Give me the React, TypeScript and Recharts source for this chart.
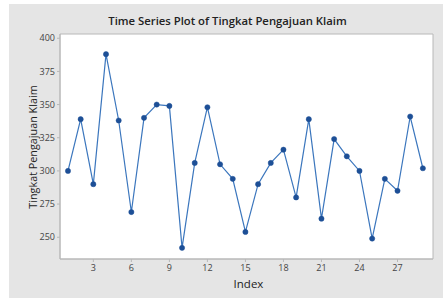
import { LineChart, Line, XAxis, YAxis, ReferenceArea } from 'recharts';

const indexValues = [1, 2, 3, 4, 5, 6, 7, 8, 9, 10, 11, 12, 13, 14, 15, 16, 17, 18, 19, 20, 21, 22, 23, 24, 25, 26, 27, 28, 29];
const klaim = [300, 339, 290, 388, 338, 269, 340, 350, 349, 242, 306, 348, 305, 294, 254, 290, 306, 316, 280, 339, 264, 324, 311, 300, 249, 294, 285, 341, 302];
const xTicks = [3, 6, 9, 12, 15, 18, 21, 24, 27];
const yTicks = [250, 275, 300, 325, 350, 375, 400];

const xDomain: [number, number] = [0.37, 29.8];
const yDomain: [number, number] = [233.6, 403.2];

const data = indexValues.map((idx, i) => ({ idx, value: klaim[i] }));

const font = '"Open Sans", "Noto Sans", sans-serif';

export default function App() {
  return (
    <div style={{ position: 'absolute', left: 0, top: 0, width: 443, height: 298, background: '#fff', overflow: 'hidden' }}>
      <div style={{ position: 'absolute', left: 9, top: 4, width: 434, height: 294, background: '#e5e5e5' }}>
        <div
          style={{
            position: 'absolute',
            left: 0,
            top: 9,
            width: 434,
            textAlign: 'center',
            fontFamily: font,
            fontSize: 11.3,
            fontWeight: 600,
            color: '#222',
            paddingLeft: 3,
            boxSizing: 'border-box',
          }}
        >
          Time Series Plot of Tingkat Pengajuan Klaim
        </div>
        <div
          style={{
            position: 'absolute',
            left: 23,
            top: 143,
            transform: 'translate(-50%, -50%) rotate(-90deg)',
            whiteSpace: 'nowrap',
            fontFamily: font,
            fontSize: 10.8,
            color: '#222',
          }}
        >
          Tingkat Pengajuan Klaim
        </div>
        <div
          style={{
            position: 'absolute',
            left: 0,
            top: 272,
            width: 434,
            paddingLeft: 51,
            boxSizing: 'border-box',
            textAlign: 'center',
            fontFamily: font,
            fontSize: 11.5,
            color: '#222',
          }}
        >
          <span style={{ position: 'relative', left: -3 }}>Index</span>
        </div>
        <LineChart
          width={434}
          height={294}
          data={data}
          margin={{ top: 30, right: 10, left: 0, bottom: 0 }}
          style={{ position: 'absolute', left: 0, top: 0 }}
        >
          <ReferenceArea
            x1={xDomain[0]}
            x2={xDomain[1]}
            y1={yDomain[0]}
            y2={yDomain[1]}
            fill="#fff"
            fillOpacity={1}
            stroke="#b8b8b8"
            strokeWidth={1}
          />
          <XAxis
            dataKey="idx"
            type="number"
            domain={xDomain}
            ticks={xTicks}
            allowDataOverflow
            height={39}
            tickSize={3}
            tickLine={{ stroke: '#b8b8b8' }}
            axisLine={{ stroke: '#b8b8b8' }}
            tick={{ fontSize: 9, fill: '#444', fontFamily: font }}
            tickMargin={3}
          />
          <YAxis
            type="number"
            domain={yDomain}
            ticks={yTicks}
            allowDataOverflow
            width={51}
            tickSize={3}
            tickLine={{ stroke: '#b8b8b8' }}
            axisLine={{ stroke: '#b8b8b8' }}
            tick={{ fontSize: 9, fill: '#444', fontFamily: font }}
            tickMargin={2}
          />
          <Line
            type="linear"
            dataKey="value"
            stroke="#3b76bd"
            strokeWidth={1.2}
            dot={{ r: 2.6, fill: '#1d4f96', stroke: '#1d4f96', strokeWidth: 0.5 }}
            isAnimationActive={false}
          />
        </LineChart>
      </div>
    </div>
  );
}
